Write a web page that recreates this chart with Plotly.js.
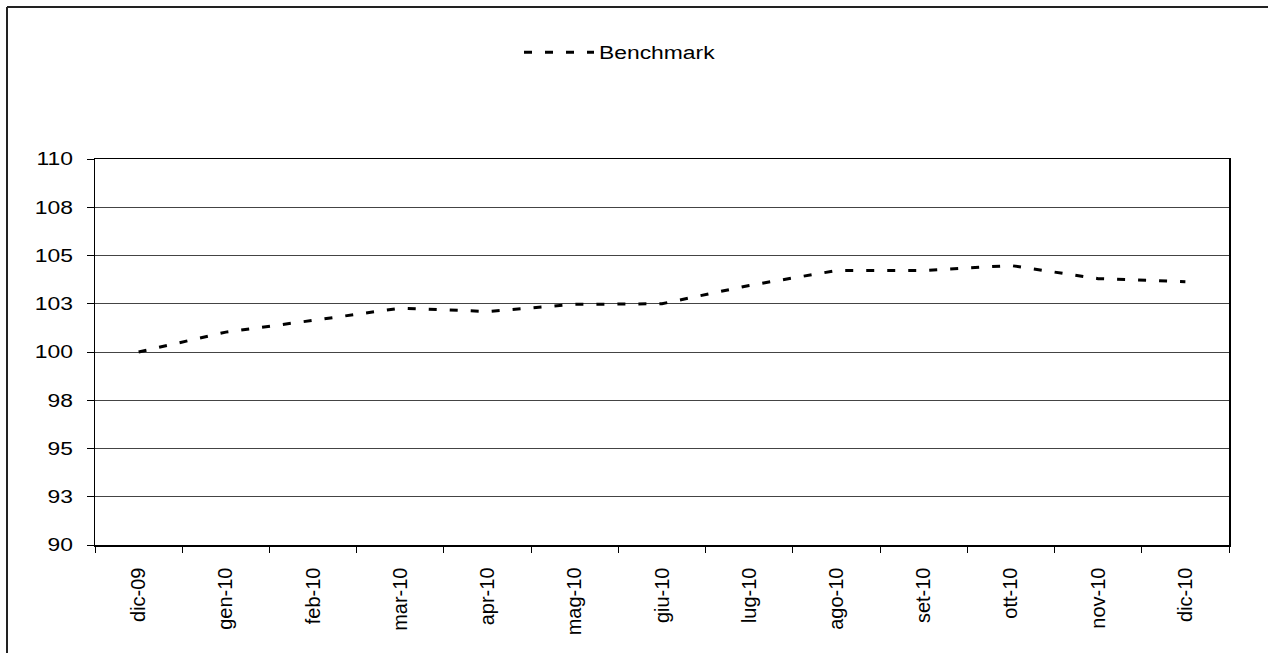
<!DOCTYPE html>
<html>
<head>
<meta charset="utf-8">
<script src="https://cdn.plot.ly/plotly-3.0.1.min.js"></script>
<style>
  html, body { margin: 0; padding: 0; background: #fff; }
  #chart { width: 1268px; height: 653px; }
</style>
</head>
<body>
<div id="chart"></div>
<script>
// Data
const categories = ['dic-09','gen-10','feb-10','mar-10','apr-10','mag-10','giu-10','lug-10','ago-10','set-10','ott-10','nov-10','dic-10'];
const benchmark = [100, 101.03, 101.64, 102.27, 102.1, 102.47, 102.5, 103.45, 104.22, 104.22, 104.48, 103.8, 103.64];
const yTickVals = [90, 92.5, 95, 97.5, 100, 102.5, 105, 107.5, 110];
const yTickText = ['90', '93', '95', '98', '100', '103', '105', '108', '110'];
const seriesName = 'Benchmark';

const FONT = 'Liberation Sans, Arial, sans-serif';

// plot area in pixels: x 95..1229, y 159..545
const L = 95, R = 1229, T = 159, B = 545;
const px = v => (v - L) / (R - L);
const py = v => (B - v) / (B - T);

const trace = {
  x: categories,
  y: benchmark,
  type: 'scatter',
  mode: 'lines',
  name: seriesName,
  line: { color: '#000', width: 3, dash: '8px,13px' },
  hoverinfo: 'x+y'
};

const layout = {
  width: 1268,
  height: 653,
  margin: { l: L, r: 1268 - R, t: T, b: 653 - B, pad: 0 },
  paper_bgcolor: '#fff',
  plot_bgcolor: '#fff',
  font: { family: FONT, size: 18, color: '#000' },
  showlegend: true,
  legend: {
    orientation: 'h',
    x: px(519), xanchor: 'left',
    y: py(34), yanchor: 'top',
    font: { family: FONT, size: 18, color: '#000' },
    bgcolor: 'rgba(0,0,0,0)',
    itemwidth: 70
  },
  xaxis: {
    type: 'category',
    range: [-0.5, categories.length - 0.5],
    tickangle: -90,
    tickson: 'boundaries',
    ticks: 'outside',
    ticklen: 6,
    tickcolor: '#000',
    tickwidth: 1,
    showgrid: false,
    showline: true,
    linecolor: '#000',
    linewidth: 1.5,
    mirror: true,
    zeroline: false,
    ticklabelstandoff: 13,
    tickfont: { family: FONT, size: 20, color: '#000' }
  },
  yaxis: {
    range: [90, 110],
    tickvals: yTickVals,
    ticktext: yTickText,
    ticks: 'outside',
    ticklen: 7,
    tickcolor: '#000',
    tickwidth: 1,
    showgrid: true,
    gridcolor: '#444',
    gridwidth: 1,
    showline: true,
    linecolor: '#000',
    linewidth: 1.5,
    mirror: true,
    zeroline: false,
    ticklabelstandoff: 10,
    tickfont: { family: FONT, size: 18, color: '#000' }
  },
  shapes: [
    { type: 'line', xref: 'paper', yref: 'paper', x0: px(7), x1: px(7), y0: py(7), y1: py(700), line: { color: '#222', width: 2 } },
    { type: 'line', xref: 'paper', yref: 'paper', x0: px(7), x1: px(1300), y0: py(7), y1: py(7), line: { color: '#222', width: 2 } }
  ]
};

Plotly.newPlot('chart', [trace], layout, { staticPlot: true, displayModeBar: false }).then(() => {
  document.querySelectorAll('#chart .legend [clip-path]').forEach(e => e.removeAttribute('clip-path'));
  document.querySelectorAll('#chart .ytick text, #chart .legendtext').forEach(t => {
    const w = t.getComputedTextLength();
    t.setAttribute('textLength', (w * 1.27).toFixed(1));
    t.setAttribute('lengthAdjust', 'spacingAndGlyphs');
  });
});
</script>
</body>
</html>
